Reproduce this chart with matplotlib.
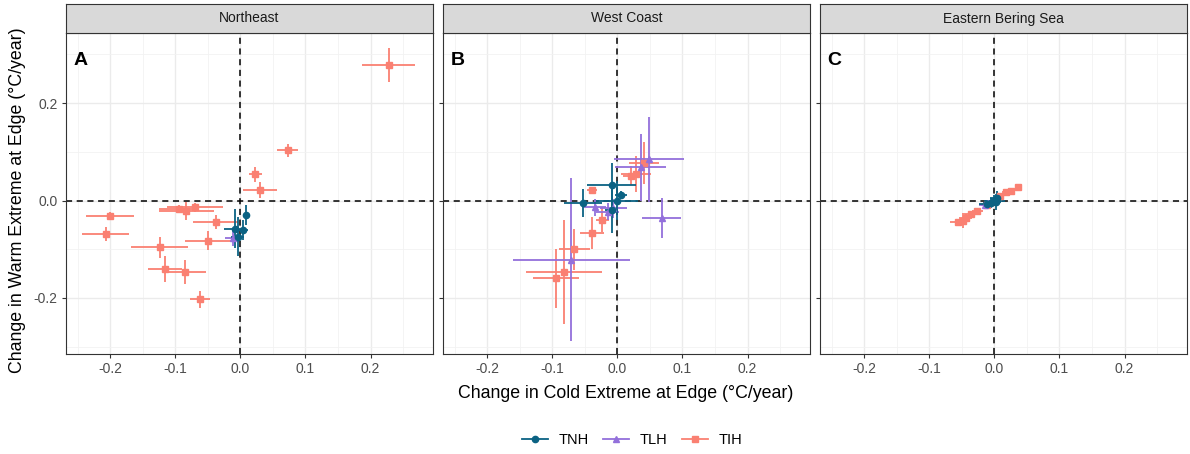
import matplotlib
matplotlib.use("Agg")
import matplotlib.pyplot as plt
from matplotlib.lines import Line2D

plt.rcParams['font.family'] = ['Liberation Sans', 'DejaVu Sans']

regions = ['Northeast', 'West Coast', 'Eastern Bering Sea']
panel_letters = ['A', 'B', 'C']
hazards = ['TNH', 'TLH', 'TIH']
hazard_colors = {'TNH': '#0B6283', 'TLH': '#9370DB', 'TIH': '#FA8072'}
hazard_markers = {'TNH': 'o', 'TLH': '^', 'TIH': 's'}

# Northeast
ne_tih_x = [0.228, 0.073, 0.023, 0.030, -0.070, -0.083, -0.095, -0.200, -0.038, -0.207, -0.050, -0.124, -0.116, -0.085, -0.062]
ne_tih_y = [0.279, 0.103, 0.054, 0.022, -0.014, -0.021, -0.018, -0.032, -0.044, -0.069, -0.082, -0.096, -0.141, -0.147, -0.203]
ne_tih_xerr = [0.041, 0.016, 0.010, 0.026, 0.043, 0.042, 0.030, 0.037, 0.035, 0.036, 0.035, 0.044, 0.026, 0.032, 0.016]
ne_tih_yerr = [0.035, 0.014, 0.015, 0.016, 0.010, 0.019, 0.008, 0.008, 0.014, 0.014, 0.019, 0.022, 0.027, 0.024, 0.018]
ne_tnh_x = [0.009, -0.008, 0.004, -0.004]
ne_tnh_y = [-0.030, -0.058, -0.060, -0.074]
ne_tnh_xerr = [0.005, 0.017, 0.008, 0.010]
ne_tnh_yerr = [0.021, 0.040, 0.020, 0.040]
ne_tlh_x = [-0.012]
ne_tlh_y = [-0.077]
ne_tlh_xerr = [0.011]
ne_tlh_yerr = [0.016]

# West Coast
wc_tih_x = [0.041, 0.028, 0.021, -0.039, -0.023, -0.039, -0.066, -0.082, -0.094]
wc_tih_y = [0.078, 0.055, 0.051, 0.021, -0.040, -0.066, -0.100, -0.147, -0.160]
wc_tih_xerr = [0.023, 0.023, 0.013, 0.008, 0.010, 0.018, 0.024, 0.059, 0.035]
wc_tih_yerr = [0.043, 0.037, 0.019, 0.006, 0.024, 0.033, 0.042, 0.107, 0.060]
wc_tlh_x = [0.049, 0.036, 0.068, -0.034, -0.015, -0.006, -0.071]
wc_tlh_y = [0.085, 0.068, -0.036, -0.014, -0.023, -0.016, -0.121]
wc_tlh_xerr = [0.054, 0.039, 0.030, 0.017, 0.018, 0.020, 0.090]
wc_tlh_yerr = [0.087, 0.068, 0.041, 0.018, 0.017, 0.020, 0.167]
wc_tnh_x = [-0.053, -0.009, 0.006, -0.001, -0.009]
wc_tnh_y = [-0.005, 0.032, 0.012, 0.000, -0.019]
wc_tnh_xerr = [0.029, 0.037, 0.009, 0.032, 0.010]
wc_tnh_yerr = [0.029, 0.045, 0.008, 0.040, 0.048]

# Eastern Bering Sea
ebs_tih_x = [0.037, 0.026, 0.018, 0.008, -0.012, -0.026, -0.036, -0.044, -0.049, -0.056]
ebs_tih_y = [0.028, 0.020, 0.017, 0.010, -0.010, -0.021, -0.028, -0.035, -0.041, -0.043]
ebs_tih_xerr = [0.006, 0.006, 0.006, 0.006, 0.008, 0.008, 0.010, 0.010, 0.012, 0.012]
ebs_tih_yerr = [0.004, 0.004, 0.004, 0.005, 0.005, 0.005, 0.006, 0.008, 0.015, 0.006]
ebs_tlh_x = [-0.015, -0.010]
ebs_tlh_y = [-0.009, -0.006]
ebs_tlh_xerr = [0.008, 0.008]
ebs_tlh_yerr = [0.005, 0.005]
ebs_tnh_x = [0.000, -0.005, 0.004, -0.011, 0.002]
ebs_tnh_y = [0.000, -0.005, 0.005, -0.008, -0.003]
ebs_tnh_xerr = [0.016, 0.012, 0.010, 0.012, 0.008]
ebs_tnh_yerr = [0.012, 0.010, 0.014, 0.006, 0.016]

data = {
    'Northeast': {
        'TNH': (ne_tnh_x, ne_tnh_y, ne_tnh_xerr, ne_tnh_yerr),
        'TLH': (ne_tlh_x, ne_tlh_y, ne_tlh_xerr, ne_tlh_yerr),
        'TIH': (ne_tih_x, ne_tih_y, ne_tih_xerr, ne_tih_yerr),
    },
    'West Coast': {
        'TNH': (wc_tnh_x, wc_tnh_y, wc_tnh_xerr, wc_tnh_yerr),
        'TLH': (wc_tlh_x, wc_tlh_y, wc_tlh_xerr, wc_tlh_yerr),
        'TIH': (wc_tih_x, wc_tih_y, wc_tih_xerr, wc_tih_yerr),
    },
    'Eastern Bering Sea': {
        'TNH': (ebs_tnh_x, ebs_tnh_y, ebs_tnh_xerr, ebs_tnh_yerr),
        'TLH': (ebs_tlh_x, ebs_tlh_y, ebs_tlh_xerr, ebs_tlh_yerr),
        'TIH': (ebs_tih_x, ebs_tih_y, ebs_tih_xerr, ebs_tih_yerr),
    },
}

W, H = 1190, 454
fig = plt.figure(figsize=(W / 100, H / 100), dpi=100)

panel_lefts = [66, 443, 820]
panel_w = 367
panel_top, panel_bot = 33, 354
strip_top = 4

for i, region in enumerate(regions):
    left = panel_lefts[i]
    ax = fig.add_axes([left / W, (H - panel_bot) / H, panel_w / W, (panel_bot - panel_top) / H])
    strip = fig.add_axes([left / W, (H - panel_top) / H, panel_w / W, (panel_top - strip_top) / H])

    # strip
    strip.set_facecolor('#D9D9D9')
    strip.set_xticks([])
    strip.set_yticks([])
    for s in strip.spines.values():
        s.set_color('#333333')
        s.set_linewidth(0.8)
    strip.text(0.5, 0.5, region, ha='center', va='center', fontsize=10, color='#1A1A1A')

    ax.set_xlim(-0.268, 0.296)
    ax.set_ylim(-0.315, 0.344)
    ax.set_xticks([-0.2, -0.1, 0.0, 0.1, 0.2])
    ax.set_xticklabels(['-0.2', '-0.1', '0.0', '0.1', '0.2'])
    ax.set_xticks([-0.25, -0.15, -0.05, 0.05, 0.15, 0.25], minor=True)
    ax.set_yticks([-0.2, 0.0, 0.2])
    ax.set_yticks([-0.3, -0.1, 0.1, 0.3], minor=True)
    if i == 0:
        ax.set_yticklabels(['-0.2', '0.0', '0.2'])
    else:
        ax.set_yticklabels([])
    ax.grid(True, which='major', color='#EBEBEB', linewidth=1.0)
    ax.grid(True, which='minor', color='#F2F2F2', linewidth=0.6)
    ax.set_axisbelow(True)
    ax.tick_params(which='major', length=3, color='#333333', labelsize=10, labelcolor='#4D4D4D', pad=3)
    ax.tick_params(which='minor', length=0)
    for s in ax.spines.values():
        s.set_color('#333333')
        s.set_linewidth(0.8)

    ax.axhline(0, color='black', linestyle=(0, (4, 3)), linewidth=1.1, zorder=1)
    ax.axvline(0, color='black', linestyle=(0, (4, 3)), linewidth=1.1, zorder=1)

    for hz in ['TIH', 'TLH', 'TNH']:
        x, y, xe, ye = data[region][hz]
        ax.errorbar(x, y, xerr=xe, yerr=ye, fmt=hazard_markers[hz], color=hazard_colors[hz],
                    markersize=4.5, elinewidth=1.3, capsize=0, zorder=3)

    ax.text(0.02, 0.94, panel_letters[i], transform=ax.transAxes, fontsize=14,
            fontweight='bold', ha='left', va='top', color='black')

fig.text(18 / W, (H - 200) / H, 'Change in Warm Extreme at Edge (°C/year)', rotation=90,
         ha='center', va='center', fontsize=12.8, color='black')
fig.text(626 / W, (H - 393) / H, 'Change in Cold Extreme at Edge (°C/year)',
         ha='center', va='center', fontsize=12.8, color='black')

handles = [Line2D([0], [0], color=hazard_colors[h], marker=hazard_markers[h], markersize=4.5,
                  linewidth=1.3) for h in hazards]
fig.legend(handles, hazards, loc='center', bbox_to_anchor=(632 / W, (H - 440) / H), ncol=3,
           frameon=False, fontsize=10.5, handlelength=1.8, columnspacing=1.0, handletextpad=0.7)

fig.savefig('out.png', dpi=100)
